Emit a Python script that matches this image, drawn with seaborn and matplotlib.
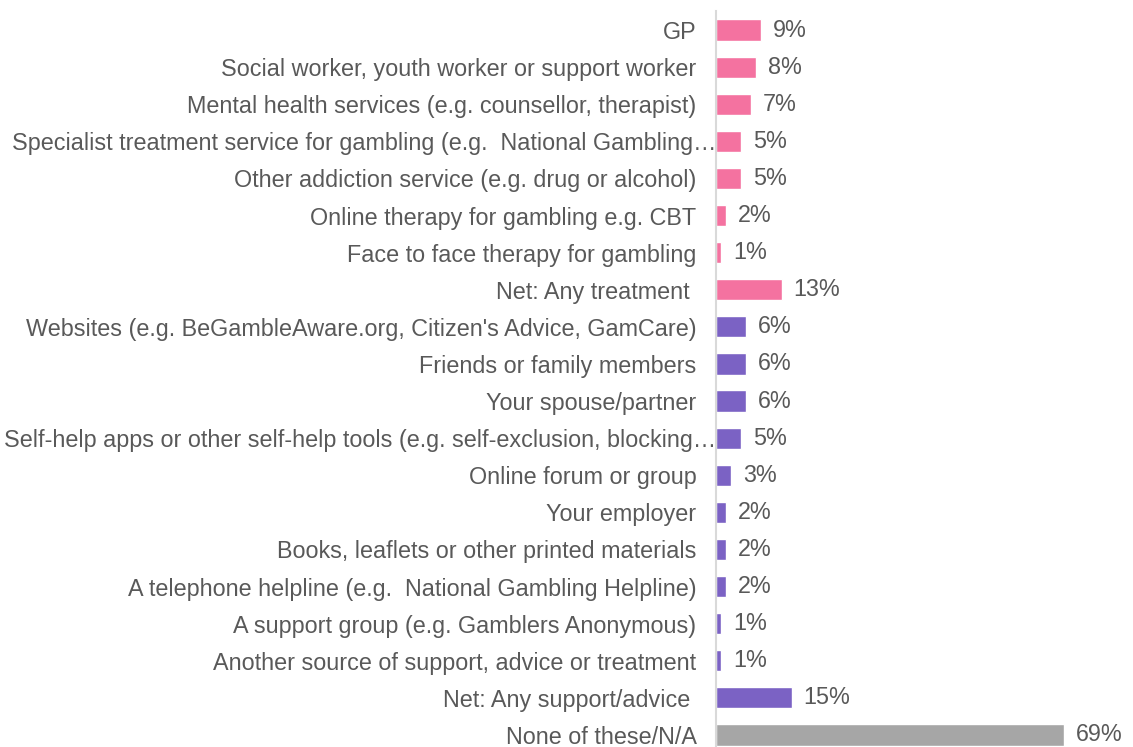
import matplotlib
matplotlib.use("Agg")
import matplotlib.pyplot as plt
import matplotlib.transforms as mtransforms
import seaborn as sns
import pandas as pd

categories = [
    "GP",
    "Social worker, youth worker or support worker",
    "Mental health services (e.g. counsellor, therapist)",
    "Specialist treatment service for gambling (e.g.  National Gambling\u2026",
    "Other addiction service (e.g. drug or alcohol)",
    "Online therapy for gambling e.g. CBT",
    "Face to face therapy for gambling",
    "Net: Any treatment ",
    "Websites (e.g. BeGambleAware.org, Citizen's Advice, GamCare)",
    "Friends or family members",
    "Your spouse/partner",
    "Self-help apps or other self-help tools (e.g. self-exclusion, blocking\u2026",
    "Online forum or group",
    "Your employer",
    "Books, leaflets or other printed materials",
    "A telephone helpline (e.g.  National Gambling Helpline)",
    "A support group (e.g. Gamblers Anonymous)",
    "Another source of support, advice or treatment",
    "Net: Any support/advice ",
    "None of these/N/A",
]
values = [9, 8, 7, 5, 5, 2, 1, 13, 6, 6, 6, 5, 3, 2, 2, 2, 1, 1, 15, 69]
groups = ["Treatment"] * 8 + ["Support/advice"] * 11 + ["None"]

palette = {"Treatment": "#F472A0", "Support/advice": "#7B62C4", "None": "#A6A6A6"}
text_color = "#595959"
fs = 16.8

df = pd.DataFrame({"category": categories, "value": values, "group": groups})

sns.set_theme(style="white")
plt.rcParams["font.family"] = ["Liberation Sans", "DejaVu Sans"]

W, H = 1133, 747
fig = plt.figure(figsize=(W / 100, H / 100), dpi=100)
ax_left, ax_right = 716 / W, 1099 / W
ax_top, ax_bottom = (H - 11.5) / H, (H - 753.5) / H
ax = fig.add_axes([ax_left, ax_bottom, ax_right - ax_left, ax_top - ax_bottom])

sns.barplot(data=df, y="category", x="value", hue="group", palette=palette,
            orient="h", dodge=False, width=0.57, legend=False, ax=ax,
            order=categories, saturation=1)

for container in ax.containers:
    labels = [f"{int(round(v))}%" for v in container.datavalues]
    ax.bar_label(container, labels=labels, padding=8.5, fontsize=fs,
                 color=text_color)

ax.set_xlim(0, 76)
ax.set_ylim(19.5, -0.5)
ax.set_xlabel("")
ax.set_ylabel("")
ax.set_xticks([])
ax.tick_params(axis="y", length=0, pad=14, labelsize=fs, labelcolor=text_color)
for side in ["top", "right", "bottom"]:
    ax.spines[side].set_visible(False)
ax.spines["left"].set_color("#D9D9D9")
ax.spines["left"].set_linewidth(1.5)

# Truncated (ellipsised) labels run right up to the axis line
shift = mtransforms.ScaledTranslation(20 / 100, 0, fig.dpi_scale_trans)
for lbl in ax.get_yticklabels():
    if lbl.get_text().endswith("\u2026"):
        lbl.set_transform(lbl.get_transform() + shift)

fig.savefig("out.png", dpi=100)
